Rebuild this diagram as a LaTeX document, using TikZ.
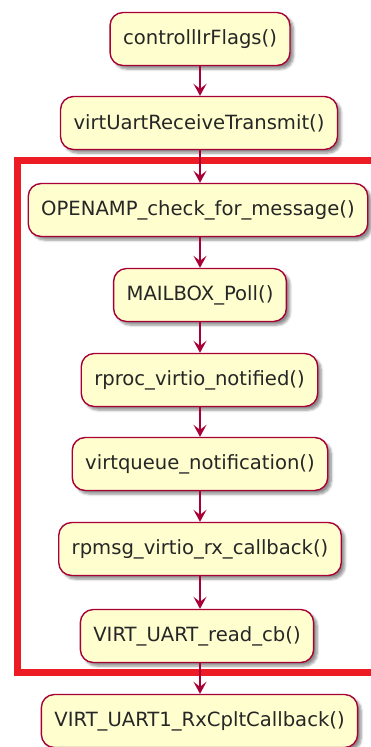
\documentclass[tikz,border=0pt]{standalone}
\usepackage{fontspec}
\setmainfont{DejaVu Sans}
\usetikzlibrary{arrows.meta,shadows.blur}
\definecolor{actfill}{HTML}{FEFECE}
\definecolor{actline}{HTML}{A80036}
\definecolor{groupred}{HTML}{ED1C24}
\tikzset{
  activity/.style={draw=actline, fill=actfill, line width=1.4pt,
    rounded corners=13pt, minimum height=53pt, inner xsep=13pt,
    font=\fontsize{19.6}{23}\selectfont, text=black!85,
    blur shadow={shadow xshift=3.5pt, shadow yshift=-3.5pt,
      shadow blur radius=2.5pt, shadow blur steps=6, shadow opacity=45}},
  flow/.style={draw=actline, line width=1.4pt,
    -{Stealth[length=12pt, width=13pt, inset=5pt]}},
  frame/.style={draw=groupred, line width=7pt}
}
\begin{document}
\begin{tikzpicture}[x=1pt, y=-1pt]
  \useasboundingbox (0,0) rectangle (371,747);
  % group frame around the message-handling chain
  \draw[frame] (380,160) -- (17,160) -- (17,672) -- (380,672);
  % activities
  \node[activity] (a1) at (200,39)  {controllIrFlags()};
  \node[activity] (a2) at (199,123) {virtUartReceiveTransmit()};
  \node[activity] (a3) at (198,210) {OPENAMP\_check\_for\_message()};
  \node[activity] (a4) at (200,295) {MAILBOX\_Poll()};
  \node[activity] (a5) at (199.5,380) {rproc\_virtio\_notified()};
  \node[activity] (a6) at (200,464) {virtqueue\_notification()};
  \node[activity] (a7) at (200,549) {rpmsg\_virtio\_rx\_callback()};
  \node[activity] (a8) at (197,636) {VIRT\_UART\_read\_cb()};
  \node[activity] (a9) at (199.5,721) {VIRT\_UART1\_RxCpltCallback()};
  % control flow
  \foreach \s/\t in {a1/a2,a2/a3,a3/a4,a4/a5,a5/a6,a6/a7,a7/a8,a8/a9}
    \draw[flow] (\s.south -| 200,0) -- (\t.north -| 200,0);
\end{tikzpicture}
\end{document}
